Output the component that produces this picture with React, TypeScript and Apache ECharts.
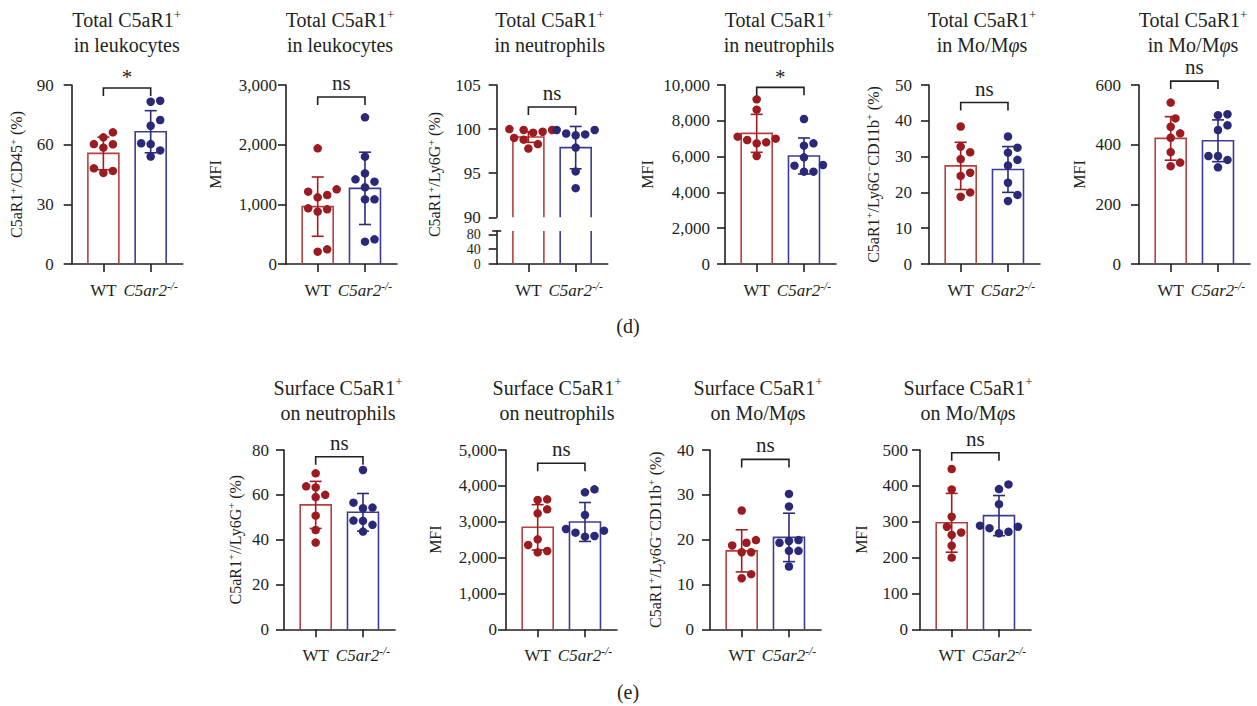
import React, { useEffect, useRef } from "react";
import * as echarts from "echarts";

// ---------- data ----------
const groupNames = ["WT", "C5ar2"];
const groupSup = "-/-";

// Panel 1
const p1Title = ["Total C5aR1^+", "in leukocytes"];
const p1YName = "C5aR1^+/CD45^+ (%)";
const p1WT = [66.2, 63.7, 60.2, 58.5, 60.3, 48.1, 46.8, 45.8];
const p1KO = [82.1, 81.6, 72.4, 69.5, 60.7, 60.3, 57.1, 54.0];
const p1Mean = [55.6, 66.5];
const p1Sd = [8.2, 10.6];
const p1Ticks = [0, 90, 30];
const p1Sig = "*";
const p1Bracket = 88.5;

// Panel 2
const p2Title = ["Total C5aR1^+", "in leukocytes"];
const p2YName = "MFI";
const p2WT = [1939, 1251, 1212, 1156, 1117, 933, 916, 877, 246, 207];
const p2KO = [2458, 1799, 1520, 1419, 1380, 1285, 1084, 1084, 413, 374];
const p2Mean = [961, 1268];
const p2Sd = [497, 606];
const p2Ticks = [0, 3000, 1000];
const p2Sig = "ns";
const p2Bracket = 2800;

// Panel 3 (broken axis)
const p3Title = ["Total C5aR1^+", "in neutrophils"];
const p3YName = "C5aR1^+/Ly6G^+ (%)";
const p3WT = [99.6, 99.7, 99.9, 100.0, 99.9, 99.0, 98.8, 98.3, 97.8];
const p3KO = [99.4, 99.3, 99.5, 99.9, 99.9, 97.9, 95.2, 93.3];
const p3Mean = [99.1, 97.9];
const p3Sd = [0.6, 2.4];
const p3Ticks = [90, 105, 5];
const p3LowerTicks = [0, 40, 80];
const p3Sig = "ns";
const p3Bracket = 102.5;

// Panel 4
const p4Title = ["Total C5aR1^+", "in neutrophils"];
const p4YName = "MFI";
const p4WT = [9199, 8622, 7114, 7002, 6927, 6797, 6741, 6034];
const p4KO = [8100, 6741, 6611, 5959, 5531, 5493, 5158, 5158];
const p4Mean = [7300, 6034];
const p4Sd = [1060, 1006];
const p4Ticks = [0, 10000, 2000];
const p4Sig = "*";
const p4Bracket = 9870;

// Panel 5
const p5Title = ["Total C5aR1^+", "in Mo/M{it|φ}s"];
const p5YName = "C5aR1^+/Ly6G^−CD11b^+ (%)";
const p5WT = [38.4, 32.8, 31.2, 29.3, 25.5, 24.6, 20.0, 18.8];
const p5KO = [35.6, 32.5, 31.1, 29.1, 27.5, 22.7, 19.3, 17.6];
const p5Mean = [27.4, 26.4];
const p5Sd = [6.6, 6.4];
const p5Ticks = [0, 50, 10];
const p5Sig = "ns";
const p5Bracket = 45.1;

// Panel 6
const p6Title = ["Total C5aR1^+", "in Mo/M{it|φ}s"];
const p6YName = "MFI";
const p6WT = [541, 488, 460, 438, 423, 375, 340, 328];
const p6KO = [502, 499, 465, 449, 362, 362, 349, 324];
const p6Mean = [421, 413];
const p6Sd = [73, 70];
const p6Ticks = [0, 600, 200];
const p6Sig = "ns";
const p6Bracket = 613;

// Panel 7
const p7Title = ["Surface C5aR1^+", "on neutrophils"];
const p7YName = "C5aR1^+//Ly6G^+ (%)";
const p7WT = [69.6, 63.8, 63.3, 60.0, 59.0, 50.7, 44.3, 38.7];
const p7KO = [71.1, 56.5, 54.3, 54.0, 48.5, 48.4, 46.6, 43.6];
const p7Mean = [55.5, 52.2];
const p7Sd = [10.5, 8.4];
const p7Ticks = [0, 80, 20];
const p7Sig = "ns";
const p7Bracket = 77;

// Panel 8
const p8Title = ["Surface C5aR1^+", "on neutrophils"];
const p8YName = "MFI";
const p8WT = [3625, 3606, 3346, 3234, 2509, 2351, 2184, 2147];
const p8KO = [3903, 3820, 3188, 2797, 2751, 2695, 2602, 2584];
const p8Mean = [2844, 2993];
const p8Sd = [632, 543];
const p8Ticks = [0, 5000, 1000];
const p8Sig = "ns";
const p8Bracket = 4629;

// Panel 9
const p9Title = ["Surface C5aR1^+", "on Mo/M{it|φ}s"];
const p9YName = "C5aR1^+/Ly6G^−CD11b^+ (%)";
const p9WT = [26.5, 19.9, 19.3, 18.7, 17.2, 17.2, 12.3, 11.4];
const p9KO = [30.2, 27.4, 19.9, 19.7, 19.3, 17.5, 17.5, 14.0];
const p9Mean = [17.5, 20.5];
const p9Sd = [4.7, 5.4];
const p9Ticks = [0, 40, 10];
const p9Sig = "ns";
const p9Bracket = 37.9;

// Panel 10
const p10Title = ["Surface C5aR1^+", "on Mo/M{it|φ}s"];
const p10YName = "MFI";
const p10WT = [447, 390, 314, 286, 270, 263, 233, 200];
const p10KO = [404, 391, 349, 289, 286, 282, 272, 268];
const p10Mean = [297, 317];
const p10Sd = [82, 56];
const p10Ticks = [0, 500, 100];
const p10Sig = "ns";
const p10Bracket = 492.5;

const panelLabels = ["(d)", "(e)"];

// ---------- layout & style ----------
const SERIF = "Liberation Serif";
const INK = "#231f20";
const AXW = 1.6;
const DOT_COLORS = ["#9c1b20", "#2a2977"];
const BAR_COLORS = ["#b4413f", "#3d3d95"];
const ERR_COLORS = ["#a01d22", "#2b2a7b"];
const X_MIN = -0.67;
const X_MAX = 1.677;
const GRID_W = 111;
const BAR_W = 31;
const CAP_W = 12;
const DOT = 8.5;
const TICK_FS = 17;
const TICK_FS_SMALL = 14;

const gridLefts = [71.7, 286, 496.7, 725, 929, 1139, 284, 506, 710, 920];
const gridTops = [85, 85, 85, 85, 85, 85, 450, 450, 450, 450];
const gridHeights = [179, 179, 179, 179, 179, 179, 179.3, 179.3, 179.3, 179.3];
const yNameDx = [55, 71, 62, 78, 56, 60, 49, 71, 55, 59];
const tickLabelMargin = [18, 9, 16, 15, 17, 18, 15, 9, 16, 12];
const titleDx = [55, 54, 53, 54, 53, 54, 54, 51, 48, 48];
const P3_UPPER_H = 132.3;
const P3_LOWER_TOP = 231;
const P3_LOWER_H = 33;
const P3_LOWER_MAX = 88.9;

type Panel = {
  title: string[]; yName: string; wt: number[]; ko: number[];
  mean: number[]; sd: number[]; ticks: number[]; sig: string; bracket: number;
};

const panels: Panel[] = [
  { title: p1Title, yName: p1YName, wt: p1WT, ko: p1KO, mean: p1Mean, sd: p1Sd, ticks: p1Ticks, sig: p1Sig, bracket: p1Bracket },
  { title: p2Title, yName: p2YName, wt: p2WT, ko: p2KO, mean: p2Mean, sd: p2Sd, ticks: p2Ticks, sig: p2Sig, bracket: p2Bracket },
  { title: p3Title, yName: p3YName, wt: p3WT, ko: p3KO, mean: p3Mean, sd: p3Sd, ticks: p3Ticks, sig: p3Sig, bracket: p3Bracket },
  { title: p4Title, yName: p4YName, wt: p4WT, ko: p4KO, mean: p4Mean, sd: p4Sd, ticks: p4Ticks, sig: p4Sig, bracket: p4Bracket },
  { title: p5Title, yName: p5YName, wt: p5WT, ko: p5KO, mean: p5Mean, sd: p5Sd, ticks: p5Ticks, sig: p5Sig, bracket: p5Bracket },
  { title: p6Title, yName: p6YName, wt: p6WT, ko: p6KO, mean: p6Mean, sd: p6Sd, ticks: p6Ticks, sig: p6Sig, bracket: p6Bracket },
  { title: p7Title, yName: p7YName, wt: p7WT, ko: p7KO, mean: p7Mean, sd: p7Sd, ticks: p7Ticks, sig: p7Sig, bracket: p7Bracket },
  { title: p8Title, yName: p8YName, wt: p8WT, ko: p8KO, mean: p8Mean, sd: p8Sd, ticks: p8Ticks, sig: p8Sig, bracket: p8Bracket },
  { title: p9Title, yName: p9YName, wt: p9WT, ko: p9KO, mean: p9Mean, sd: p9Sd, ticks: p9Ticks, sig: p9Sig, bracket: p9Bracket },
  { title: p10Title, yName: p10YName, wt: p10WT, ko: p10KO, mean: p10Mean, sd: p10Sd, ticks: p10Ticks, sig: p10Sig, bracket: p10Bracket },
];

// turn "A^+B{it|x}C" into explicit rich tokens {n|A}{s|+}{n|B}{it|x}{n|C}
function tokens(s: string) {
  const re = /\{(\w+)\|([^}]*)\}|\^([+\-−])|([^{^]+)/g;
  let out = "";
  let m: RegExpExecArray | null;
  while ((m = re.exec(s)) !== null) {
    if (m[1]) out += `{${m[1]}|${m[2]}}`;
    else if (m[3]) out += `{s|${m[3]}}`;
    else if (m[4]) out += `{n|${m[4]}}`;
  }
  return out;
}

function fmt(v: number) {
  return v >= 1000 ? String(v).replace(/\B(?=(\d{3})+(?!\d))/g, ",") : String(v);
}

// simple beeswarm: returns x offsets (axis units)
function swarm(values: number[], yPxPerUnit: number, xPxPerUnit: number, d: number) {
  const order = values.map((_, i) => i).sort((a, b) => values[a] - values[b]);
  const placed: { x: number; y: number }[] = [];
  const out: number[] = new Array(values.length).fill(0);
  const step = d / 2;
  for (const i of order) {
    const y = values[i] * yPxPerUnit;
    let chosen = 0;
    for (let k = 0; k < 60; k++) {
      const cands = k === 0 ? [0] : [k * step, -k * step];
      let ok: number | null = null;
      for (const c of cands) {
        if (placed.every((p) => (p.x - c) ** 2 + (p.y - y) ** 2 >= d * d - 0.01)) { ok = c; break; }
      }
      if (ok !== null) { chosen = ok; break; }
    }
    placed.push({ x: chosen, y });
    out[i] = chosen / xPxPerUnit;
  }
  return out;
}

const xRich = {
  n: { fontFamily: SERIF, fontSize: 17, color: INK, lineHeight: 20 },
  i: { fontFamily: SERIF, fontSize: 17, color: INK, fontStyle: "italic", lineHeight: 20 },
  s: { fontFamily: SERIF, fontSize: 11.5, color: INK, fontStyle: "italic", lineHeight: 12, verticalAlign: "top" },
};

function makeX(gi: number, show: boolean) {
  return {
    gridIndex: gi, type: "value", min: X_MIN, max: X_MAX, show,
    splitLine: { show: false },
    axisLine: { show: true, onZero: false, lineStyle: { color: INK, width: AXW } },
    axisTick: { show: true, customValues: [0, 1], length: 8, lineStyle: { color: INK, width: AXW } },
    axisLabel: {
      show: true, customValues: [0, 1], margin: 16, hideOverlap: false,
      fontFamily: SERIF, fontSize: 17, color: INK,
      formatter: (v: number) => (Math.round(v) === 0 ? `{n|${groupNames[0]}}` : `{i|${groupNames[1]}}{s|${groupSup}}`),
      rich: xRich,
    },
  };
}

function makeY(gi: number, min: number, max: number, interval: number | null, margin: number, custom?: number[], fs = TICK_FS) {
  const y: any = {
    gridIndex: gi, type: "value", min, max,
    splitLine: { show: false },
    axisLine: { show: true, onZero: false, lineStyle: { color: INK, width: AXW } },
    axisTick: { show: true, length: 8, lineStyle: { color: INK, width: AXW } },
    axisLabel: {
      margin, fontFamily: SERIF, fontSize: fs, color: INK, lineHeight: 12,
      hideOverlap: false, showMinLabel: true, showMaxLabel: true,
      formatter: (v: number) => `{t|${fmt(v)}}`,
      rich: { t: { fontFamily: SERIF, fontSize: fs, color: INK, lineHeight: 12 } },
    },
  };
  if (interval !== null) y.interval = interval;
  if (custom) {
    y.axisTick.customValues = custom;
    y.axisLabel.customValues = custom;
  }
  return y;
}

function buildOption() {
  const grid: any[] = [];
  const xAxis: any[] = [];
  const yAxis: any[] = [];
  const series: any[] = [];
  const graphic: any[] = [];
  const xPx = GRID_W / (X_MAX - X_MIN);

  panels.forEach((p, k) => {
    const left = gridLefts[k];
    const top = gridTops[k];
    const broken = k === 2;
    const h = broken ? P3_UPPER_H : gridHeights[k];
    const [yMin, yMax, step] = p.ticks;

    const gi = grid.length;
    grid.push({ left, top, width: GRID_W, height: h, outerBoundsMode: "none" });
    xAxis.push(makeX(gi, !broken));
    yAxis.push(makeY(gi, yMin, yMax, step, tickLabelMargin[k]));

    // bars + error bars
    series.push({
      type: "custom", xAxisIndex: gi, yAxisIndex: gi, silent: true, z: 2,
      data: p.mean.map((m, i) => [i, m, p.sd[i]]),
      renderItem: (params: any, api: any) => {
        const i = params.dataIndex;
        const x = api.value(0), m = api.value(1), sd = api.value(2);
        const t = api.coord([x, m]);
        const b = api.coord([x, yMin]);
        const hi = api.coord([x, m + sd]);
        const lo = api.coord([x, m - sd]);
        const cx = t[0];
        const l = cx - BAR_W / 2, r = cx + BAR_W / 2;
        return {
          type: "group",
          children: [
            { type: "polyline", shape: { points: [[l, b[1]], [l, t[1]], [r, t[1]], [r, b[1]]] },
              style: { fill: "none", stroke: BAR_COLORS[i], lineWidth: 1.6 } },
            { type: "line", shape: { x1: cx, y1: lo[1], x2: cx, y2: hi[1] }, style: { stroke: ERR_COLORS[i], lineWidth: 1.6 } },
            { type: "line", shape: { x1: cx - CAP_W / 2, y1: hi[1], x2: cx + CAP_W / 2, y2: hi[1] }, style: { stroke: ERR_COLORS[i], lineWidth: 1.6 } },
            { type: "line", shape: { x1: cx - CAP_W / 2, y1: lo[1], x2: cx + CAP_W / 2, y2: lo[1] }, style: { stroke: ERR_COLORS[i], lineWidth: 1.6 } },
          ],
        };
      },
    });

    // dots
    const yPx = h / (yMax - yMin);
    [p.wt, p.ko].forEach((vals, g) => {
      const offs = swarm(vals, yPx, xPx, 9.5);
      series.push({
        type: "scatter", xAxisIndex: gi, yAxisIndex: gi, silent: true, z: 3,
        symbol: "circle", symbolSize: DOT,
        itemStyle: { color: DOT_COLORS[g], opacity: 1 },
        data: vals.map((v, i) => [g + offs[i], v]),
      });
    });

    // significance bracket
    series.push({
      type: "custom", xAxisIndex: gi, yAxisIndex: gi, silent: true, z: 4, clip: false,
      data: [[0, p.bracket]],
      renderItem: (params: any, api: any) => {
        const yv = api.value(1);
        const a = api.coord([0, yv]);
        const c = api.coord([1, yv]);
        const dy = p.sig === "*" ? -10.5 : -14;
        return {
          type: "group",
          children: [
            { type: "polyline", shape: { points: [[a[0], a[1] + 8], [a[0], a[1]], [c[0], c[1]], [c[0], c[1] + 8]] },
              style: { fill: "none", stroke: INK, lineWidth: 1.6 } },
            { type: "text", x: (a[0] + c[0]) / 2, y: a[1] + dy,
              style: {
                text: `{n|${p.sig}}`, fill: INK, fontFamily: SERIF, fontSize: 21, align: "center", verticalAlign: "middle",
                rich: { n: { fill: INK, fontFamily: SERIF, fontSize: 21, lineHeight: 16 } },
              } },
          ],
        };
      },
    });

    let totalH = h;
    if (broken) {
      const gl = grid.length;
      grid.push({ left, top: P3_LOWER_TOP, width: GRID_W, height: P3_LOWER_H, outerBoundsMode: "none" });
      xAxis.push(makeX(gl, true));
      yAxis.push(makeY(gl, 0, P3_LOWER_MAX, null, tickLabelMargin[k], p3LowerTicks, TICK_FS_SMALL));
      series.push({
        type: "custom", xAxisIndex: gl, yAxisIndex: gl, silent: true, z: 2,
        data: [[0, 0], [1, 0]],
        renderItem: (params: any, api: any) => {
          const i = params.dataIndex;
          const b = api.coord([api.value(0), 0]);
          const yTop = params.coordSys.y;
          const l = b[0] - BAR_W / 2, r = b[0] + BAR_W / 2;
          return {
            type: "group",
            children: [
              { type: "line", shape: { x1: l, y1: b[1], x2: l, y2: yTop }, style: { stroke: BAR_COLORS[i], lineWidth: 1.6 } },
              { type: "line", shape: { x1: r, y1: b[1], x2: r, y2: yTop }, style: { stroke: BAR_COLORS[i], lineWidth: 1.6 } },
            ],
          };
        },
      });
      graphic.push({
        type: "line", silent: true,
        shape: { x1: left - 4.5, y1: P3_LOWER_TOP, x2: left + 4.5, y2: P3_LOWER_TOP },
        style: { stroke: INK, lineWidth: AXW },
      });
      totalH = P3_LOWER_TOP + P3_LOWER_H - top;
    }

    // title
    graphic.push({
      type: "text", silent: true,
      x: left + titleDx[k], y: top - (top < 200 ? 52.5 : 50),
      style: {
        text: p.title.map(tokens).join("\n"),
        fill: INK, fontFamily: SERIF, fontSize: 20, lineHeight: 25,
        align: "center", verticalAlign: "middle",
        rich: {
          n: { fill: INK, fontFamily: SERIF, fontSize: 20, lineHeight: 25 },
          s: { fill: INK, fontFamily: SERIF, fontSize: 13, lineHeight: 14, verticalAlign: "top" },
          it: { fill: INK, fontFamily: SERIF, fontSize: 20, lineHeight: 25, fontStyle: "italic" },
        },
      },
    });

    // y-axis name
    graphic.push({
      type: "text", silent: true,
      x: left - yNameDx[k], y: top + totalH / 2, rotation: Math.PI / 2,
      style: {
        text: tokens(p.yName),
        fill: INK, fontFamily: SERIF, fontSize: 16, lineHeight: 18,
        align: "center", verticalAlign: "middle",
        rich: {
          n: { fill: INK, fontFamily: SERIF, fontSize: 16, lineHeight: 18 },
          s: { fill: INK, fontFamily: SERIF, fontSize: 10.5, lineHeight: 11, verticalAlign: "top" },
        },
      },
    });
  });

  [326, 692].forEach((y, i) => {
    graphic.push({
      type: "text", silent: true, x: 628, y,
      style: {
        text: `{n|${panelLabels[i]}}`, fill: INK, fontFamily: SERIF, fontSize: 20, align: "center", verticalAlign: "middle",
        rich: { n: { fill: INK, fontFamily: SERIF, fontSize: 20, lineHeight: 22 } },
      },
    });
  });

  return {
    animation: false,
    backgroundColor: "#ffffff",
    textStyle: { fontFamily: SERIF },
    grid, xAxis, yAxis, series,
    graphic: { elements: graphic },
  };
}

export default function App() {
  const ref = useRef<HTMLDivElement>(null);
  useEffect(() => {
    if (!ref.current) return;
    const chart = echarts.init(ref.current, null, { renderer: "svg", width: 1257, height: 706 });
    chart.setOption(buildOption() as any);
    return () => chart.dispose();
  }, []);
  return (
    <div
      ref={ref}
      style={{ position: "absolute", left: 0, top: 0, width: 1257, height: 706, background: "#fff" }}
    />
  );
}
